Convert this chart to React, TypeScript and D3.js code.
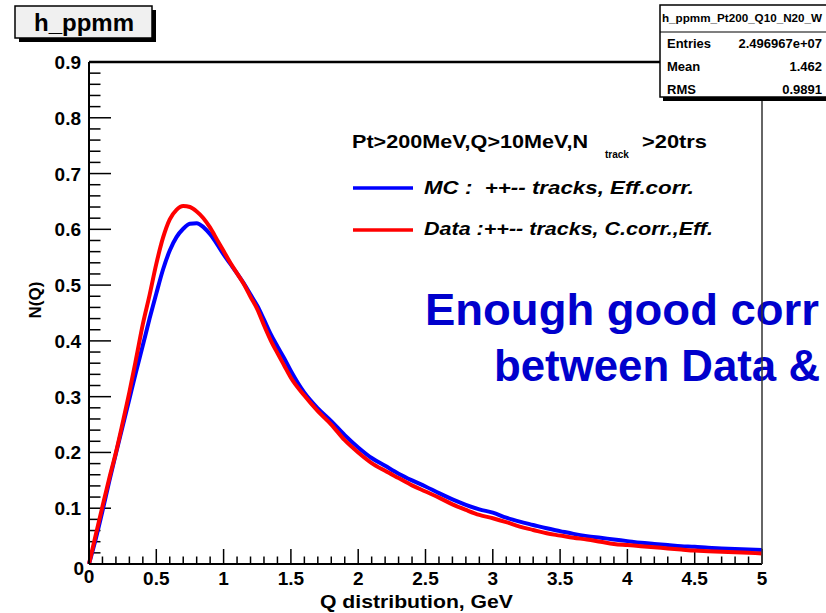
import React from 'react';
import * as d3 from 'd3';

const qGrid = [
  0, 0.05, 0.1, 0.15, 0.2, 0.25, 0.3, 0.35, 0.4, 0.45, 0.5, 0.55, 0.6, 0.65, 0.7, 0.75, 0.8, 0.85, 0.9, 0.95,
  1.0, 1.05, 1.1, 1.15, 1.2, 1.25, 1.3, 1.35, 1.4, 1.45, 1.5,
  1.6, 1.7, 1.8, 1.9, 2.0, 2.1, 2.2, 2.3, 2.4, 2.5, 2.6, 2.7, 2.8, 2.9, 3.0, 3.1, 3.2, 3.3, 3.4, 3.5,
  3.6, 3.7, 3.8, 3.9, 4.0, 4.1, 4.2, 4.3, 4.4, 4.5, 4.6, 4.7, 4.8, 4.9, 5.0,
];

const mcValues = [
  0, 0.045, 0.095, 0.148, 0.198, 0.247, 0.296, 0.345, 0.392, 0.44, 0.485, 0.528, 0.562, 0.586, 0.601, 0.61, 0.611, 0.604, 0.591, 0.574,
  0.555, 0.538, 0.521, 0.503, 0.483, 0.463, 0.438, 0.412, 0.39, 0.369, 0.346,
  0.307, 0.279, 0.256, 0.231, 0.209, 0.19, 0.176, 0.162, 0.15, 0.139, 0.127, 0.116, 0.106, 0.098, 0.092, 0.083, 0.076, 0.07, 0.064, 0.059,
  0.054, 0.05, 0.047, 0.044, 0.041, 0.038, 0.036, 0.034, 0.032, 0.031, 0.029, 0.028, 0.027, 0.026, 0.025,
];

const dataValues = [
  0, 0.052, 0.103, 0.153, 0.2, 0.253, 0.308, 0.368, 0.43, 0.482, 0.538, 0.585, 0.618, 0.635, 0.642, 0.64, 0.632, 0.62, 0.603, 0.582,
  0.561, 0.54, 0.521, 0.502, 0.479, 0.457, 0.428, 0.401, 0.378, 0.356, 0.334,
  0.302, 0.274, 0.25, 0.222, 0.2, 0.181, 0.167, 0.154, 0.141, 0.13, 0.119, 0.107, 0.097, 0.088, 0.082, 0.075, 0.067, 0.061, 0.055, 0.051,
  0.047, 0.044, 0.04, 0.036, 0.034, 0.032, 0.03, 0.028, 0.026, 0.024, 0.023, 0.022, 0.021, 0.02, 0.019,
];

const xMajorTicks = [0, 0.5, 1, 1.5, 2, 2.5, 3, 3.5, 4, 4.5, 5];
const xTickLabels = ['0', '0.5', '1', '1.5', '2', '2.5', '3', '3.5', '4', '4.5', '5'];
const yMajorTicks = [0, 0.1, 0.2, 0.3, 0.4, 0.5, 0.6, 0.7, 0.8, 0.9];
const yTickLabels = ['0', '0.1', '0.2', '0.3', '0.4', '0.5', '0.6', '0.7', '0.8', '0.9'];

const statsTitle = 'h_ppmm_Pt200_Q10_N20_W';
const statsLabels = ['Entries', 'Mean', 'RMS'];
const statsValues = ['2.496967e+07', '1.462', '0.9891'];

const legendEntries = [
  { label: 'MC :  ++-- tracks, Eff.corr.', color: '#0000ff', len: 270 },
  { label: 'Data :++-- tracks, C.corr.,Eff.', color: '#ff0000', len: 289 },
];

const noteLines = ['Enough good corr', 'between Data &'];

export default function App() {
  const W = 826, H = 613;
  const L = 89, R = 762, T = 62, B = 564;
  const x = d3.scaleLinear().domain([0, 5]).range([L, R]);
  const y = d3.scaleLinear().domain([0, 0.9]).range([B, T]);

  const xMinor = d3.range(0, 51).map((i) => i * 0.1);
  const yMinor = d3.range(0, 46).map((i) => i * 0.02);

  const line = d3
    .line<number>()
    .x((_, i) => x(qGrid[i]))
    .y((d) => y(d))
    .curve(d3.curveMonotoneX);

  const font = 'Liberation Sans, Arial, Helvetica, sans-serif';

  return (
    <svg
      width={W}
      height={H}
      style={{ position: 'absolute', left: 0, top: 0, background: '#fff' }}
      fontFamily={font}
    >
      <rect x={0} y={0} width={W} height={H} fill="#fff" />

      {/* title box */}
      <rect x={19} y={10} width={137} height={32} fill="#000" />
      <rect x={15} y={6} width={137} height={32} fill="#f0f0f0" stroke="#000" strokeWidth={1.5} />
      <text x={84} y={31} textAnchor="middle" fontSize={24} fontWeight="bold">h_ppmm</text>

      {/* ticks */}
      <g stroke="#000" strokeWidth={1.5}>
        {xMinor.map((v, i) => (
          <line key={'xm' + i} x1={x(v)} x2={x(v)} y1={B} y2={B - (i % 5 === 0 ? 15 : 7.5)} />
        ))}
        {yMinor.map((v, i) => (
          <line key={'ym' + i} x1={L} x2={L + (i % 5 === 0 ? 22 : 11.5)} y1={y(v)} y2={y(v)} />
        ))}
      </g>

      {/* curves */}
      <path d={line(mcValues) || ''} fill="none" stroke="#0000ff" strokeWidth={4} />
      <path d={line(dataValues) || ''} fill="none" stroke="#ff0000" strokeWidth={4} />

      {/* tick labels */}
      <g fontSize={19} fontWeight="bold" fill="#000">
        {xMajorTicks.map((v, i) => (
          <text key={'xl' + i} x={x(v)} y={i === 0 ? 583 : 585} textAnchor="middle">{xTickLabels[i]}</text>
        ))}
        {yMajorTicks.map((v, i) => (
          <text key={'yl' + i} x={i === 0 ? 84 : 81} y={y(v) + (i === 0 ? 11 : 7)} textAnchor="end">{yTickLabels[i]}</text>
        ))}
      </g>

      {/* axis titles */}
      <text x={320} y={608} fontSize={19} fontWeight="bold" textLength={193} lengthAdjust="spacingAndGlyphs">
        Q distribution, GeV
      </text>
      <text transform="translate(41,300) rotate(-90)" textAnchor="middle" fontSize={17} fontWeight="bold">N(Q)</text>

      {/* legend */}
      <text x={352} y={148} fontSize={18} fontWeight="bold" textLength={236} lengthAdjust="spacingAndGlyphs">
        Pt&gt;200MeV,Q&gt;10MeV,N
      </text>
      <text x={605} y={158} fontSize={10} fontWeight="bold">track</text>
      <text x={642} y={148} fontSize={18} fontWeight="bold" textLength={65} lengthAdjust="spacingAndGlyphs">&gt;20trs</text>
      {legendEntries.map((e, i) => (
        <g key={'lg' + i}>
          <line x1={353} x2={413} y1={188 + i * 42} y2={188 + i * 42} stroke={e.color} strokeWidth={3.5} />
          <text
            x={424}
            y={194 + i * 41}
            fontSize={18}
            fontWeight="bold"
            fontStyle="italic"
            textLength={e.len}
            lengthAdjust="spacingAndGlyphs"
            style={{ whiteSpace: 'pre' }}
          >
            {e.label}
          </text>
        </g>
      ))}

      {/* big annotation */}
      <g fill="#0000cc" fontWeight="bold" fontSize={44}>
        <text x={425} y={325} textLength={394} lengthAdjust="spacingAndGlyphs">{noteLines[0]}</text>
        <text x={494} y={381} textLength={326} lengthAdjust="spacingAndGlyphs">{noteLines[1]}</text>
      </g>

      {/* frame */}
      <g stroke="#000" fill="none">
        <line x1={L} x2={L} y1={T} y2={B} strokeWidth={2} />
        <line x1={L} x2={R} y1={B} y2={B} strokeWidth={2} />
        <line x1={L} x2={R} y1={T} y2={T} strokeWidth={2.5} />
        <line x1={R} x2={R} y1={T} y2={B} strokeWidth={1.5} stroke="#333" />
      </g>

      {/* stats box */}
      <rect x={663} y={9} width={200} height={92} fill="#000" />
      <rect x={660} y={5} width={200} height={92} fill="#fff" stroke="#000" strokeWidth={1.5} />
      <line x1={660} x2={860} y1={32} y2={32} stroke="#000" strokeWidth={1.2} />
      <text x={662} y={22} fontSize={10} fontWeight="bold" textLength={160} lengthAdjust="spacingAndGlyphs">{statsTitle}</text>
      {statsLabels.map((s, i) => (
        <g key={'st' + i} fontSize={13} fontWeight="bold">
          <text x={667} y={48 + i * 23}>{s}</text>
          <text x={822} y={48 + i * 23} textAnchor="end">{statsValues[i]}</text>
        </g>
      ))}
    </svg>
  );
}
